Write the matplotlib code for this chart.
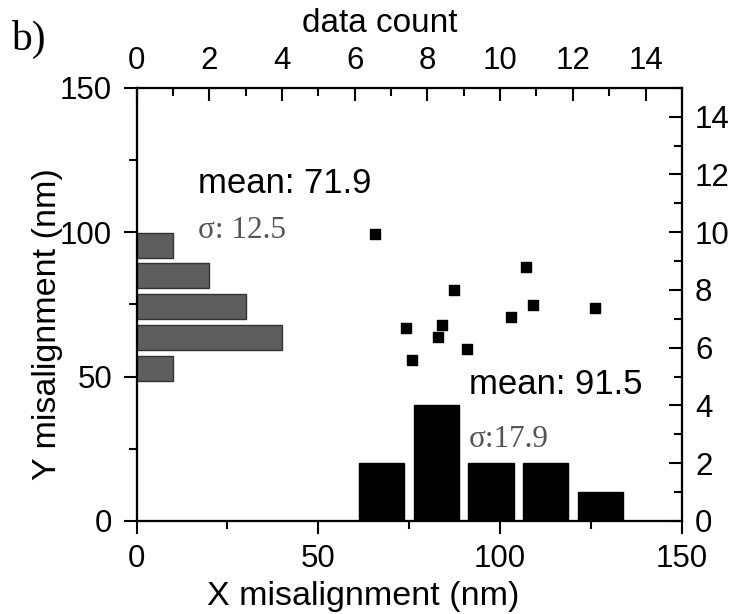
import matplotlib.pyplot as plt
from matplotlib.ticker import MultipleLocator

plt.rcParams["font.family"] = ["Liberation Sans", "DejaVu Sans"]

# misalignment of each measured pair (nm)
x_mis = [65.5, 107.2, 87.2, 109.1, 126.2, 103.1, 74.0, 83.9, 82.9, 90.8, 75.8]
y_mis = [99.4, 87.9, 80.1, 74.7, 73.6, 70.8, 66.9, 67.7, 63.6, 59.6, 55.6]

# histogram of X misalignment (bottom, counts on right axis)
x_bins = [67.5, 82.5, 97.5, 112.5, 127.5]
x_counts = [2, 4, 2, 2, 1]

# histogram of Y misalignment (left, counts on top axis)
y_bins = [95.5, 84.9, 74.2, 63.5, 52.7]
y_counts = [1, 2, 3, 4, 1]

x_mean, x_sigma = "91.5", "17.9"
y_mean, y_sigma = "71.9", "12.5"

fig = plt.figure(figsize=(7.34, 6.14), dpi=100)
ax = fig.add_axes([0.186, 0.1515, 0.743, 0.7055])

ax_top = ax.twiny()
ax_right = ax.twinx()

ax_top.barh(y_bins, y_counts, height=8.6, left=0, color="#5e5e5e",
            edgecolor="#333333", linewidth=1)
ax_right.bar(x_bins, x_counts, width=12.4, color="black", edgecolor="black")
ax.scatter(x_mis, y_mis, marker="s", s=42, linewidths=1, color="black",
           zorder=5)

ax.set_xlim(0, 150)
ax.set_ylim(0, 150)
ax_top.set_xlim(0, 15)
ax_right.set_ylim(0, 15)

for a in (ax, ax_top, ax_right):
    for s in a.spines.values():
        s.set_linewidth(1.5)

# main axes: outward ticks
ax.xaxis.set_major_locator(MultipleLocator(50))
ax.xaxis.set_minor_locator(MultipleLocator(25))
ax.yaxis.set_major_locator(MultipleLocator(50))
ax.yaxis.set_minor_locator(MultipleLocator(25))
ax.tick_params(which="major", direction="out", length=9.5, width=1.5,
               labelsize=22.5)
ax.tick_params(which="minor", direction="out", length=6, width=1.5)
ax.tick_params(axis="x", which="major", pad=7)
ax.tick_params(axis="y", which="major", pad=8)

# count axes: inward ticks
ax_top.xaxis.set_major_locator(MultipleLocator(2))
ax_top.xaxis.set_minor_locator(MultipleLocator(1))
ax_top.tick_params(which="major", direction="in", length=9.5, width=1.5,
                   labelsize=22.5, pad=8.5)
ax_top.tick_params(which="minor", direction="in", length=6, width=1.5)

ax_right.yaxis.set_major_locator(MultipleLocator(2))
ax_right.yaxis.set_minor_locator(MultipleLocator(1))
ax_right.tick_params(which="major", direction="in", length=9.5, width=1.5,
                     labelsize=22.5, pad=9.5)
ax_right.tick_params(which="minor", direction="in", length=6, width=1.5)

ax.set_xlabel("X misalignment (nm)", fontsize=24.5)
ax.xaxis.set_label_coords(0.415, -0.139)
ax.set_ylabel("Y misalignment (nm)", fontsize=24.5)
ax.yaxis.set_label_coords(-0.1346, 0.455)
ax_top.set_xlabel("data count", fontsize=24)
ax_top.xaxis.set_label_coords(0.446, 1.128)

ax.text(16.9, 116.8, f"mean: {y_mean}", fontsize=25, va="center", zorder=6)
ax.text(16.9, 100.5, f"σ: {y_sigma}", fontsize=22.5, va="center",
        family="Liberation Serif", color="#555555", zorder=6)
ax.text(91.5, 47.1, f"mean: {x_mean}", fontsize=25, va="center", zorder=6)
ax.text(91.3, 28.3, f"σ:{x_sigma}", fontsize=22.5, va="center",
        family="Liberation Serif", color="#555555", zorder=6)

fig.text(0.015, 0.918, "b)", fontsize=30, family="Liberation Serif",
         va="baseline")

fig.savefig("out.png", dpi=100)
